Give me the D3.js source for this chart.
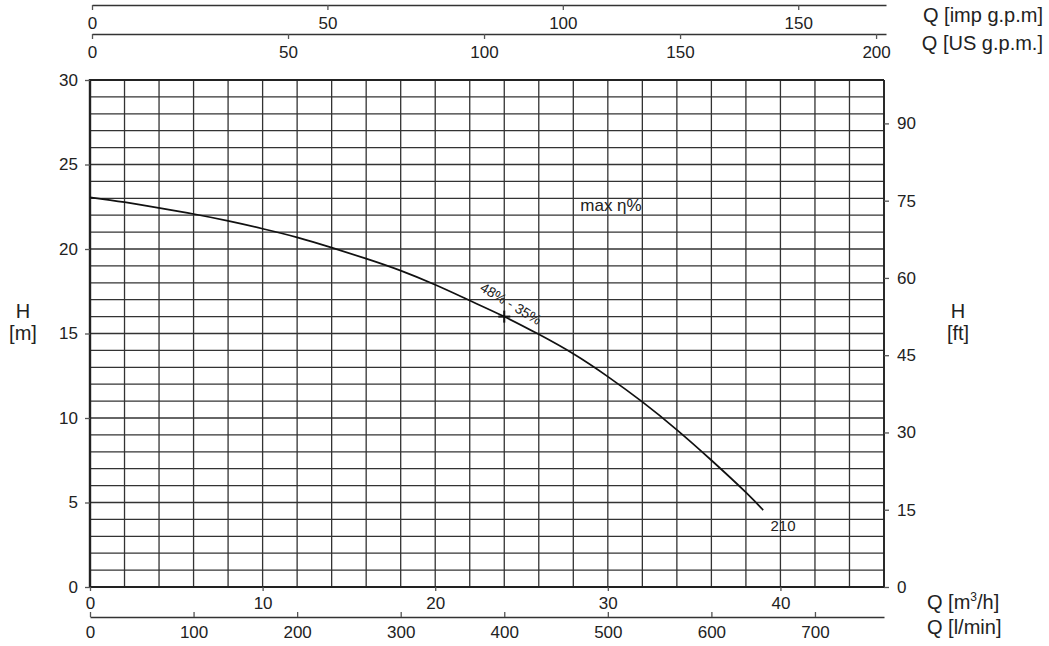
<!DOCTYPE html>
<html><head><meta charset="utf-8">
<script src="https://cdn.jsdelivr.net/npm/d3@7"></script>
<style>
html,body{margin:0;padding:0;background:#fff;}
text{font-family:"Liberation Sans",Arial,sans-serif;fill:#222;}
</style></head>
<body><svg id="c" width="1049" height="646"></svg>
<script>
// ---- data ----
const flowM3h = [0,2,4,6,8,10,12,14,16,18,20,22,24,26,28,30,32,34,36,38,39];
const headM   = [23.06,22.77,22.43,22.07,21.66,21.2,20.69,20.08,19.43,18.72,17.88,16.95,16.0,14.95,13.8,12.45,10.95,9.3,7.5,5.6,4.55];
const bepFlow = 24, bepHead = 16;
const curveName = "210";
const bepLabel = "48% - 35%";
const effLabel = "max η%";
const headMTicks = [0,5,10,15,20,25,30];
const headFtTicks = [0,15,30,45,60,75,90];
const m3hTicks = [0,10,20,30,40];
const lminTicks = [0,100,200,300,400,500,600,700];
const usGpmTicks = [0,50,100,150,200];
const impGpmTicks = [0,50,100,150];
const M_TO_FT = 3.28084, M3H_TO_LMIN = 1000/60, M3H_TO_USGPM = 4.40287, M3H_TO_IMPGPM = 3.66615;
const qMax = 46, hMax = 30;

// ---- layout ----
const L = 90, R = 884, T = 80, B = 587;
const svg = d3.select("#c");
const x = d3.scaleLinear().domain([0,qMax]).range([L,R]);
const y = d3.scaleLinear().domain([0,hMax]).range([B,T]);
const xL = d3.scaleLinear().domain([0,qMax*M3H_TO_LMIN]).range([L,R]);
const xUS = d3.scaleLinear().domain([0,qMax*M3H_TO_USGPM]).range([L+2,R+2]);
const xImp = d3.scaleLinear().domain([0,qMax*M3H_TO_IMPGPM]).range([L+2,R+2]);
const yFt = d3.scaleLinear().domain([0,hMax*M_TO_FT]).range([B,T]);

const fs = "17px";

// grid
const g = svg.append("g");
g.selectAll(".v").data(d3.range(0,qMax+0.01,2)).join("line")
  .attr("x1",d=>x(d)).attr("x2",d=>x(d)).attr("y1",T).attr("y2",B)
  .attr("stroke","#333").attr("stroke-width",1.3);
g.selectAll(".h").data(d3.range(0,hMax+0.01,1)).join("line")
  .attr("x1",L).attr("x2",R).attr("y1",d=>y(d)).attr("y2",d=>y(d))
  .attr("stroke","#333").attr("stroke-width",1.3);
svg.append("line").attr("x1",L).attr("x2",L).attr("y1",T-1).attr("y2",B+1).attr("stroke","#222").attr("stroke-width",2.4);
svg.append("line").attr("x1",L).attr("x2",R).attr("y1",T).attr("y2",T).attr("stroke","#222").attr("stroke-width",2);
svg.append("line").attr("x1",R).attr("x2",R).attr("y1",T).attr("y2",B).attr("stroke","#222").attr("stroke-width",1.8);
svg.append("line").attr("x1",L).attr("x2",R).attr("y1",B).attr("y2",B).attr("stroke","#222").attr("stroke-width",1.8);

function styleAxis(sel){
  sel.select(".domain").attr("stroke","#333").attr("stroke-width",1.6);
  sel.selectAll(".tick line").attr("stroke","#555").attr("stroke-width",1.3);
  sel.selectAll(".tick text").attr("font-size",fs).attr("font-family","Liberation Sans, Arial, sans-serif").attr("fill","#222");
}
// left axis
const ax1 = svg.append("g").attr("transform",`translate(${L},0)`)
  .call(d3.axisLeft(y).tickValues(headMTicks).tickSize(5).tickPadding(7));
styleAxis(ax1); ax1.select(".domain").remove();
// right axis (ft)
const ax2 = svg.append("g").attr("transform",`translate(${R},0)`)
  .call(d3.axisRight(yFt).tickValues(headFtTicks).tickSize(5).tickPadding(8));
styleAxis(ax2); ax2.select(".domain").remove();
// bottom m3/h
const ax3 = svg.append("g").attr("transform",`translate(0,${B})`)
  .call(d3.axisBottom(x).tickValues(m3hTicks).tickSize(4).tickPadding(6));
styleAxis(ax3); ax3.select(".domain").remove();
// bottom l/min
const ax4 = svg.append("g").attr("transform",`translate(0,617)`)
  .call(d3.axisBottom(xL).tickValues(lminTicks).tickSizeInner(-5).tickSizeOuter(0).tickPadding(8));
styleAxis(ax4);
ax4.selectAll(".tick text").attr("dy","0.71em").attr("y",9);
// top imp gpm
const ax5 = svg.append("g").attr("transform",`translate(0,5)`)
  .call(d3.axisBottom(xImp).tickValues(impGpmTicks).tickSizeInner(5).tickSizeOuter(0).tickPadding(7));
styleAxis(ax5);
// top US gpm
const ax6 = svg.append("g").attr("transform",`translate(0,34)`)
  .call(d3.axisBottom(xUS).tickValues(usGpmTicks).tickSizeInner(5).tickSizeOuter(0).tickPadding(7));
styleAxis(ax6);

// axis titles
const tfs = "20px";
function t(xp,yp,txt,anchor,size){
  return svg.append("text").attr("x",xp).attr("y",yp).attr("text-anchor",anchor||"middle")
    .attr("dominant-baseline","middle").attr("font-size",size||tfs).text(txt);
}
t(1043,17,"Q [imp g.p.m]","end");
t(1043,45,"Q [US g.p.m.]","end");
t(23,313,"H");
t(23,335,"[m]");
t(958,313,"H");
t(958,335,"[ft]");
const q1 = svg.append("text").attr("x",927).attr("y",604).attr("dominant-baseline","middle").attr("font-size",tfs);
q1.append("tspan").text("Q [m");
q1.append("tspan").attr("font-size","12px").attr("dy","-6").text("3");
q1.append("tspan").attr("dy","6").text("/h]");
t(927,629,"Q [l/min]","start");

// curve
const line = d3.line().x((d,i)=>x(flowM3h[i])).y(d=>y(d)).curve(d3.curveNatural);
svg.append("path").datum(headM).attr("d",line).attr("fill","none").attr("stroke","#111").attr("stroke-width",1.7);

// BEP marker
const bx = x(bepFlow), by = y(bepHead);
svg.append("line").attr("x1",bx-6).attr("x2",bx+6).attr("y1",by).attr("y2",by).attr("stroke","#111").attr("stroke-width",2);
svg.append("line").attr("x1",bx).attr("x2",bx).attr("y1",by-6).attr("y2",by+6).attr("stroke","#111").attr("stroke-width",2);
svg.append("text").attr("transform",`translate(${bx+6},${by-12}) rotate(31)`)
  .attr("text-anchor","middle").attr("dominant-baseline","middle").attr("font-size","14px").text(bepLabel);
t(611,207,effLabel,"middle","17px");
t(783,527,curveName,"middle","15px");
</script></body></html>
